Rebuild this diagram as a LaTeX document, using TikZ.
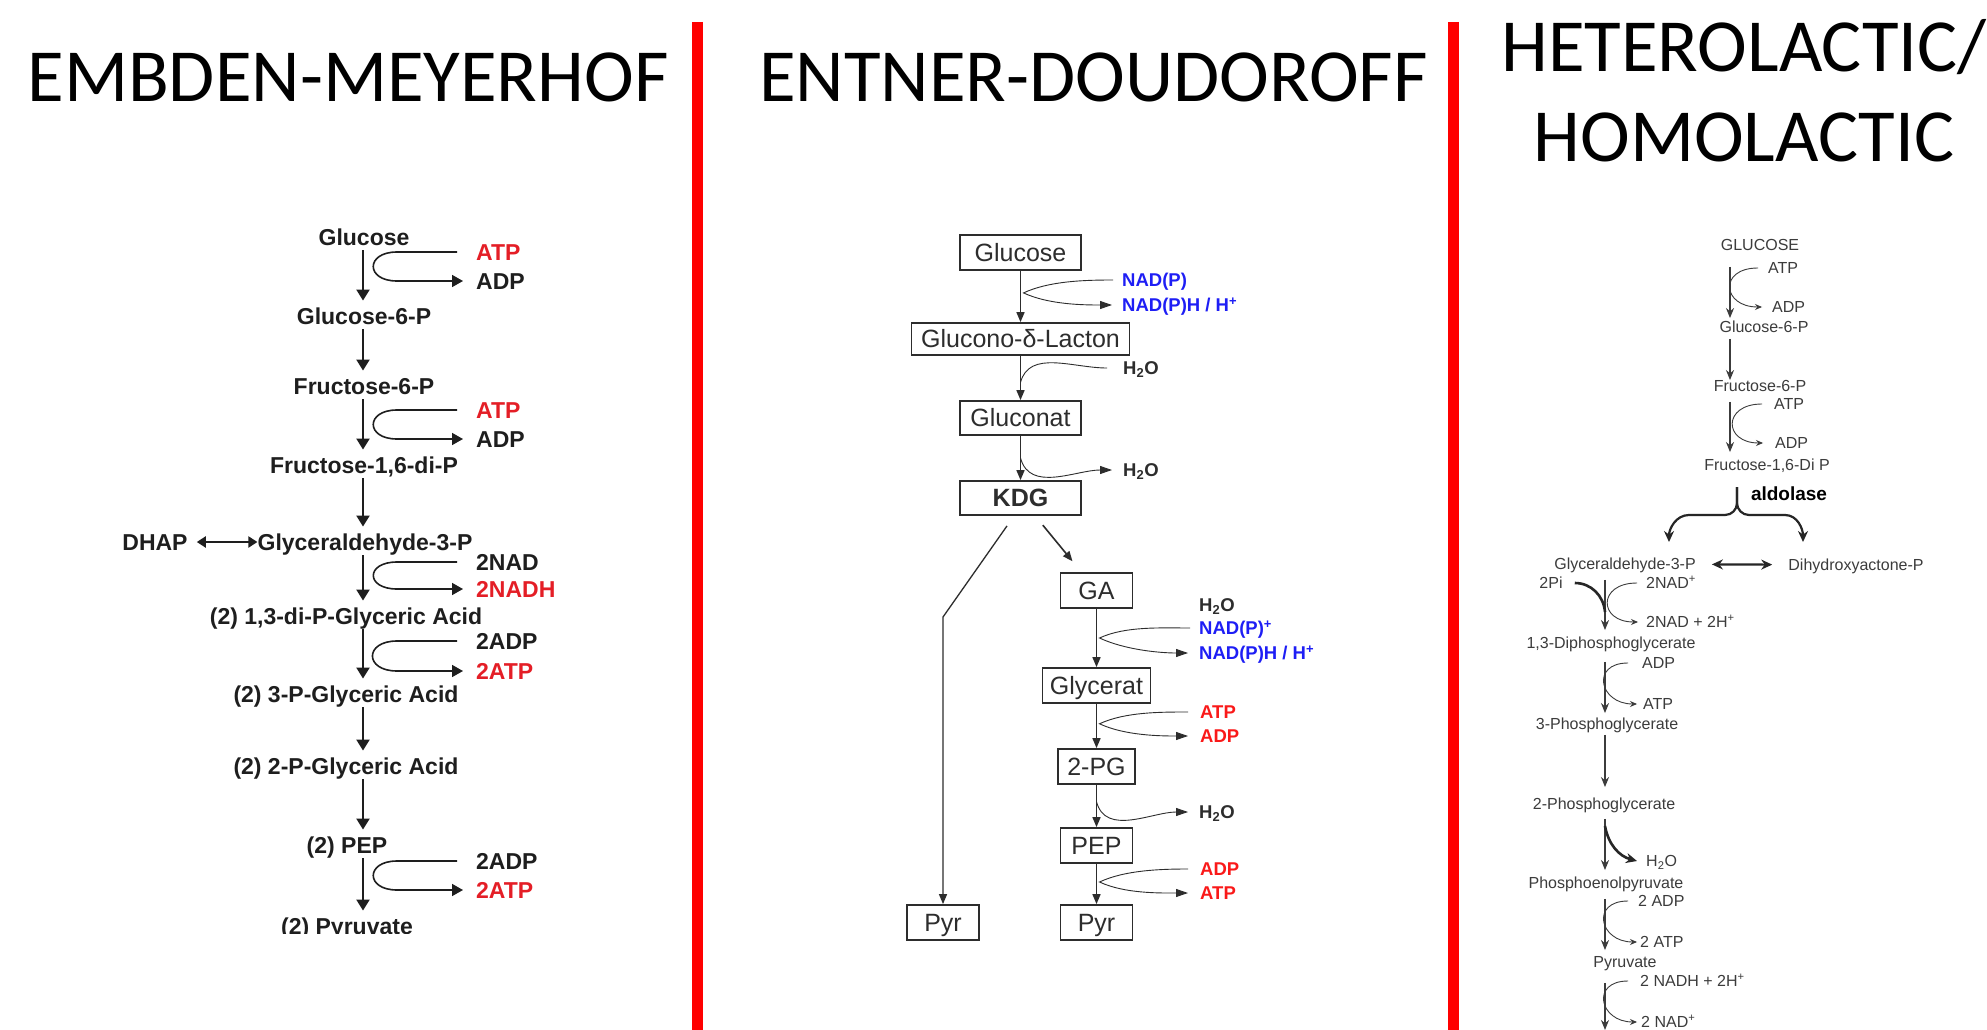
\documentclass[tikz,border=0pt]{standalone}
\usepackage{fontspec}
\setmainfont{Liberation Sans}
\newfontfamily\headfont{Carlito}
\usetikzlibrary{arrows.meta, positioning, calc}

\definecolor{emink}{RGB}{30,30,30}
\definecolor{emred}{RGB}{228,30,38}
\definecolor{edink}{RGB}{45,45,45}
\definecolor{edred}{RGB}{250,25,25}
\definecolor{edblue}{RGB}{30,30,245}
\definecolor{hlink}{RGB}{60,60,60}

\begin{document}
\begin{tikzpicture}[
        x=1pt, y=-1pt,
        heading/.style={font=\headfont\fontsize{75}{80}\selectfont, inner sep=0pt, text height=47.4pt, text depth=0pt},
        divider/.style={draw=red, line width=11pt},
        emlabel/.style={font=\bfseries\fontsize{23}{26}\selectfont, text=emink, inner sep=0pt, text height=16.5pt, text depth=0pt},
        emside/.style={emlabel, anchor=west},
        emarrow/.style={draw=emink, line width=2.2pt, shorten <=5pt, shorten >=7pt, -{Triangle[length=11pt, width=13pt]}},
        emloop/.style={draw=emink, line width=1.6pt, -{Triangle[length=11pt, width=12pt]}},
        edbox/.style={draw=edink, line width=1.8pt, font=\fontsize{25}{28}\selectfont, text=edink, inner sep=0pt, text height=17.9pt, text depth=0pt, minimum height=35pt},
        edarrow/.style={draw=edink, line width=1.6pt, -{Triangle[length=10pt, width=8pt]}},
        edside/.style={draw=edink, line width=0.9pt},
        edsidearrow/.style={edside, -{Triangle[length=12pt, width=8pt]}},
        edlabel/.style={font=\bfseries\fontsize{18.5}{20}\selectfont, text=edink, anchor=west, inner sep=0pt, text height=13.2pt, text depth=0pt},
        hllabel/.style={font=\fontsize{16}{18}\selectfont, text=hlink, inner sep=0pt, text height=11.5pt, text depth=0pt},
        hlside/.style={hllabel, anchor=west},
        hlarrow/.style={draw=hlink, line width=1.3pt, -{Stealth[length=10pt, width=8pt]}},
        hlcurve/.style={draw=hlink, line width=0.9pt, -{Stealth[length=7pt, width=6pt]}},
        hlthick/.style={draw=black!85, line width=2.2pt}
        ]

        % Page
        \fill[white] (0,0) rectangle (1987,1030);
        \useasboundingbox (0,0) rectangle (1987,1030);

        % Headings and dividers
        \node [heading] (emhead) at (348,77.5) {EMBDEN-MEYERHOF};
        \node [heading] (edhead) at (1093.5,77.5) {ENTNER-DOUDOROFF};
        \node [heading] (hlheadA) at (1744,47.5) {HETEROLACTIC/};
        \node [heading] (hlheadB) at (1744,137.5) {HOMOLACTIC};
        \draw [divider] (697.5,22) -- (697.5,1030);
        \draw [divider] (1453.5,22) -- (1453.5,1030);

        % Embden-Meyerhof nodes
        \coordinate (emT) at (363,0);
        \node [emlabel] (emglc) at (364,237) {Glucose};
        \node [emlabel] (emg6p) at (364,316) {Glucose-6-P};
        \node [emlabel] (emf6p) at (364,386) {Fructose-6-P};
        \node [emlabel] (emfdp) at (364,465) {Fructose-1,6-di-P};
        \node [emlabel] (emgap) at (365,542) {Glyceraldehyde-3-P};
        \node [emlabel] (emdhap) at (155,542) {DHAP};
        \node [emlabel] (embpg) at (346,616) {(2) 1,3-di-P-Glyceric Acid};
        \node [emlabel] (em3pg) at (346,694) {(2) 3-P-Glyceric Acid};
        \node [emlabel] (em2pg) at (346,766) {(2) 2-P-Glyceric Acid};
        \node [emlabel] (empep) at (347,845) {(2) PEP};
        \begin{scope}
            \clip (200,900) rectangle (500,933);
            \node [emlabel] (empyr) at (347,926) {(2) Pyruvate};
        \end{scope}
        \node [emside, text=emred] (ematpa) at (476,252) {ATP};
        \node [emside] (emadpa) at (476,281) {ADP};
        \node [emside, text=emred] (ematpb) at (476,410) {ATP};
        \node [emside] (emadpb) at (476,439) {ADP};
        \node [emside] (emnad) at (476,562) {2NAD};
        \node [emside, text=emred] (emnadh) at (476,589) {2NADH};
        \node [emside] (emadpc) at (476,641) {2ADP};
        \node [emside, text=emred] (ematpc) at (476,671) {2ATP};
        \node [emside] (emadpd) at (476,861) {2ADP};
        \node [emside, text=emred] (ematpd) at (476,890) {2ATP};

        % Embden-Meyerhof edges
        \draw [emarrow] (emglc.south -| emT) -- (emg6p.north -| emT);
        \draw [emarrow] (emg6p.south -| emT) -- (emf6p.north -| emT);
        \draw [emarrow] (emf6p.south -| emT) -- (emfdp.north -| emT);
        \draw [emarrow] (emfdp.south -| emT) -- (emgap.north -| emT);
        \draw [emarrow] (emgap.south -| emT) -- (embpg.north -| emT);
        \draw [emarrow] (embpg.south -| emT) -- (em3pg.north -| emT);
        \draw [emarrow] (em3pg.south -| emT) -- (em2pg.north -| emT);
        \draw [emarrow] (em2pg.south -| emT) -- (empep.north -| emT);
        \draw [emarrow] (empep.south -| emT) -- (empyr.north -| emT);
        \draw [emarrow, line width=2pt, shorten <=9pt, shorten >=0pt, {Triangle[length=9pt, width=11pt]}-{Triangle[length=9pt, width=11pt]}] (emdhap) -- (emgap);
        \draw [emloop] ([xshift=-19pt]ematpa.west) -- ([xshift=-79pt]ematpa.west) to[out=180, in=180, looseness=2.8] ([xshift=-79pt]emadpa.west) -- ([xshift=-13pt]emadpa.west);
        \draw [emloop] ([xshift=-19pt]ematpb.west) -- ([xshift=-79pt]ematpb.west) to[out=180, in=180, looseness=2.8] ([xshift=-79pt]emadpb.west) -- ([xshift=-13pt]emadpb.west);
        \draw [emloop] ([xshift=-19pt]emnad.west) -- ([xshift=-79pt]emnad.west) to[out=180, in=180, looseness=3] ([xshift=-79pt]emnadh.west) -- ([xshift=-13pt]emnadh.west);
        \draw [emloop] ([xshift=-19pt]emadpc.west) -- ([xshift=-79pt]emadpc.west) to[out=180, in=180, looseness=2.8] ([xshift=-79pt]ematpc.west) -- ([xshift=-13pt]ematpc.west);
        \draw [emloop] ([xshift=-19pt]emadpd.west) -- ([xshift=-79pt]emadpd.west) to[out=180, in=180, looseness=2.8] ([xshift=-79pt]ematpd.west) -- ([xshift=-13pt]ematpd.west);

        % Entner-Doudoroff nodes
        \node [edbox, minimum width=121pt] (edglc) at (1020.5,252.5) {Glucose};
        \node [edbox, minimum width=218pt, minimum height=32pt] (edlac) at (1020.5,339) {Glucono-δ-Lacton};
        \node [edbox, minimum width=121pt, minimum height=34pt] (edgcn) at (1020.5,418) {Gluconat};
        \node [edbox, minimum width=121pt, minimum height=34pt, font=\bfseries\fontsize{25}{28}\selectfont] (edkdg) at (1020.5,498) {KDG};
        \node [edbox, minimum width=72pt] (edga) at (1096.5,590.5) {GA};
        \node [edbox, minimum width=108pt] (edgly) at (1096.5,685.5) {Glycerat};
        \node [edbox, minimum width=77pt] (edpg) at (1096.5,766.5) {2-PG};
        \node [edbox, minimum width=72pt] (edpep) at (1096.5,845.5) {PEP};
        \node [edbox, minimum width=72pt] (edpyrb) at (1096.5,922.5) {Pyr};
        \node [edbox, minimum width=72pt] (edpyra) at (943,922.5) {Pyr};
        \node [edlabel, text=edblue] (ednadpa) at (1122,280) {NAD(P)};
        \node [edlabel, text=edblue] (ednadpha) at (1122,305) {NAD(P)H / H\textsuperscript{+}};
        \node [edlabel] (edh2oa) at (1123,368) {H\textsubscript{2}O};
        \node [edlabel] (edh2ob) at (1123,470) {H\textsubscript{2}O};
        \node [edlabel] (edh2oc) at (1199,605) {H\textsubscript{2}O};
        \node [edlabel, text=edblue] (ednadpb) at (1199,628) {NAD(P)\textsuperscript{+}};
        \node [edlabel, text=edblue] (ednadphb) at (1199,653) {NAD(P)H / H\textsuperscript{+}};
        \node [edlabel, text=edred] (edatpa) at (1200,712) {ATP};
        \node [edlabel, text=edred] (edadpa) at (1200,736) {ADP};
        \node [edlabel] (edh2od) at (1199,812) {H\textsubscript{2}O};
        \node [edlabel, text=edred] (edadpb) at (1200,869) {ADP};
        \node [edlabel, text=edred] (edatpb) at (1200,893) {ATP};

        % Entner-Doudoroff edges
        \draw [edarrow] (edglc) -- (edlac);
        \draw [edarrow] (edlac) -- (edgcn);
        \draw [edarrow] (edgcn) -- (edkdg);
        \draw [edarrow, shorten <=12pt, shorten >=14pt] (edkdg) -- (edga);
        \coordinate (edbend) at (943,617);
        \draw [edarrow, line width=1.3pt] ([xshift=-13.5pt, yshift=-10pt]edkdg.south) -- (edbend) -- (edpyra);
        \draw [edarrow] (edga) -- (edgly);
        \draw [edarrow] (edgly) -- (edpg);
        \draw [edarrow] (edpg) -- (edpep);
        \draw [edarrow] (edpep) -- (edpyrb);
        \draw [edsidearrow] ([xshift=-9pt]ednadpa.west) to[out=180, in=25, looseness=0.8] ([xshift=3pt]$(edglc.south)!0.43!(edlac.north)$) to[out=-25, in=180, looseness=0.8] ([xshift=-10pt]ednadpha.west);
        \draw [edside] ([xshift=-16pt]edh2oa.west) to[out=180, in=75] ($(edlac.south)!0.6!(edgcn.north)$);
        \draw [edsidearrow] ($(edgcn.south)!0.5!(edkdg.north)$) to[out=-75, in=180] ([xshift=-11pt]edh2ob.west);
        \draw [edsidearrow] ([xshift=-9pt]ednadpb.west) to[out=180, in=25, looseness=0.8] ([xshift=3pt]$(edga.south)!0.5!(edgly.north)$) to[out=-25, in=180, looseness=0.8] ([xshift=-11pt]ednadphb.west);
        \draw [edsidearrow] ([xshift=-12pt]edatpa.west) to[out=180, in=25, looseness=0.8] ([xshift=3pt]$(edgly.south)!0.45!(edpg.north)$) to[out=-25, in=180, looseness=0.8] ([xshift=-12pt]edadpa.west);
        \draw [edsidearrow] ($(edpg.south)!0.4!(edpep.north)$) to[out=-75, in=180] ([xshift=-11pt]edh2od.west);
        \draw [edsidearrow] ([xshift=-12pt]edadpb.west) to[out=180, in=25, looseness=0.8] ([xshift=3pt]$(edpep.south)!0.45!(edpyrb.north)$) to[out=-25, in=180, looseness=0.8] ([xshift=-12pt]edatpb.west);

        % Heterolactic / homolactic nodes
        \coordinate (hlA) at (1730,0);
        \coordinate (hlB) at (1605,0);
        \node [hllabel] (hlglc) at (1760,245) {GLUCOSE};
        \node [hllabel] (hlg6p) at (1764,327) {Glucose-6-P};
        \node [hllabel] (hlf6p) at (1760,386) {Fructose-6-P};
        \node [hllabel] (hlfdp) at (1767,465) {Fructose-1,6-Di P};
        \node [hllabel, font=\bfseries\fontsize{19}{21}\selectfont, text=black] (hlald) at (1789,495) {aldolase};
        \node [hllabel] (hlgap) at (1625,564) {Glyceraldehyde-3-P};
        \node [hllabel] (hldhap) at (1856,565) {Dihydroxyactone-P};
        \node [hllabel] (hlpi) at (1551,583) {2Pi};
        \node [hllabel] (hldpg) at (1611,643) {1,3-Diphosphoglycerate};
        \node [hllabel] (hl3pg) at (1607,724) {3-Phosphoglycerate};
        \node [hllabel] (hl2pg) at (1604,804) {2-Phosphoglycerate};
        \node [hllabel] (hlpep) at (1606,883) {Phosphoenolpyruvate};
        \node [hllabel] (hlpyr) at (1625,962) {Pyruvate};
        \node [hlside] (hlatpa) at (1768,268) {ATP};
        \node [hlside] (hladpa) at (1772,307) {ADP};
        \node [hlside] (hlatpb) at (1774,404) {ATP};
        \node [hlside] (hladpb) at (1775,443) {ADP};
        \node [hlside] (hlnad) at (1646,583) {2NAD\textsuperscript{+}};
        \node [hlside] (hlnadh) at (1646,622) {2NAD + 2H\textsuperscript{+}};
        \node [hlside] (hladpc) at (1642,663) {ADP};
        \node [hlside] (hlatpc) at (1643,704) {ATP};
        \node [hlside] (hlh2o) at (1646,861) {H\textsubscript{2}O};
        \node [hlside] (hladpd) at (1638,901) {2 ADP};
        \node [hlside] (hlatpd) at (1640,942) {2 ATP};
        \node [hlside] (hlnadhb) at (1640,981) {2 NADH + 2H\textsuperscript{+}};
        \node [hlside] (hlnadb) at (1641,1022) {2 NAD\textsuperscript{+}};

        % Heterolactic / homolactic edges
        \draw [hlarrow, shorten <=16pt, shorten >=3pt] (hlglc.south -| hlA) -- (hlg6p.north -| hlA);
        \draw [hlarrow, shorten <=6pt] (hlg6p.south -| hlA) -- (hlf6p.north -| hlA);
        \draw [hlarrow, shorten <=10pt, shorten >=7pt] (hlf6p.south -| hlA) -- (hlfdp.north -| hlA);
        \draw [hlarrow, shorten <=10pt, shorten >=7pt] (hlgap.south -| hlB) -- (hldpg.north -| hlB);
        \draw [hlarrow, shorten <=13pt, shorten >=5pt] (hldpg.south -| hlB) -- (hl3pg.north -| hlB);
        \draw [hlarrow, shorten <=5pt, shorten >=11pt] (hl3pg.south -| hlB) -- (hl2pg.north -| hlB);
        \draw [hlarrow, shorten <=9pt, shorten >=7pt] (hl2pg.south -| hlB) -- (hlpep.north -| hlB);
        \draw [hlarrow, shorten <=10pt, shorten >=6pt] (hlpep.south -| hlB) -- (hlpyr.north -| hlB);
        \coordinate (hlend) at (1605,1030);
        \draw [hlarrow, shorten <=15pt] (hlpyr.south -| hlB) -- (hlend);
        \draw [hlcurve] ([xshift=-10pt]hlatpa.west) to[out=180, in=180, looseness=2.6] ([xshift=-10pt]hladpa.west);
        \draw [hlcurve] ([xshift=-12pt]hlatpb.west) to[out=180, in=180, looseness=2.6] ([xshift=-12pt]hladpb.west);
        \draw [hlcurve] ([xshift=-9pt]hlnad.west) to[out=180, in=180, looseness=2.6] ([xshift=-8pt]hlnadh.west);
        \draw [hlcurve] ([xshift=-14pt]hladpc.west) to[out=180, in=180, looseness=2.3] ([xshift=-6pt]hlatpc.west);
        \draw [hlcurve] ([xshift=-10pt]hladpd.west) to[out=180, in=180, looseness=2.3] ([xshift=-3pt]hlatpd.west);
        \draw [hlcurve] ([xshift=-12pt]hlnadhb.west) to[out=180, in=180, looseness=2.3] ([xshift=-4pt]hlnadb.west);
        \coordinate (hlpijoin) at (1605,612);
        \draw [hlthick, line width=2.6pt] ([xshift=12pt]hlpi.east) to[out=0, in=95] (hlpijoin);
        \coordinate (hlh2ojoin) at (1605,826);
        \draw [hlthick, line width=2.6pt, -{Stealth[length=11pt, width=10pt]}] (hlh2ojoin) to[out=-80, in=165] ([xshift=-9pt]hlh2o.west);
        \coordinate (hlsplit) at (1737,487);
        \draw [hlthick, -{Stealth[length=11pt, width=10pt]}] (hlsplit) -- ++(0,16) to[out=-90, in=0] ++(-12,12) -- ++(-36,0) to[out=180, in=90] ++(-20,27);
        \draw [hlthick, -{Stealth[length=11pt, width=10pt]}] (hlsplit) -- ++(0,16) to[out=-90, in=180] ++(12,12) -- ++(36,0) to[out=0, in=90] ++(18,27);
        \draw [hlthick, shorten <=16pt, shorten >=16pt, {Stealth[length=11pt, width=10pt]}-{Stealth[length=11pt, width=10pt]}] (hlgap) -- (hldhap);
\end{tikzpicture}
\end{document}
